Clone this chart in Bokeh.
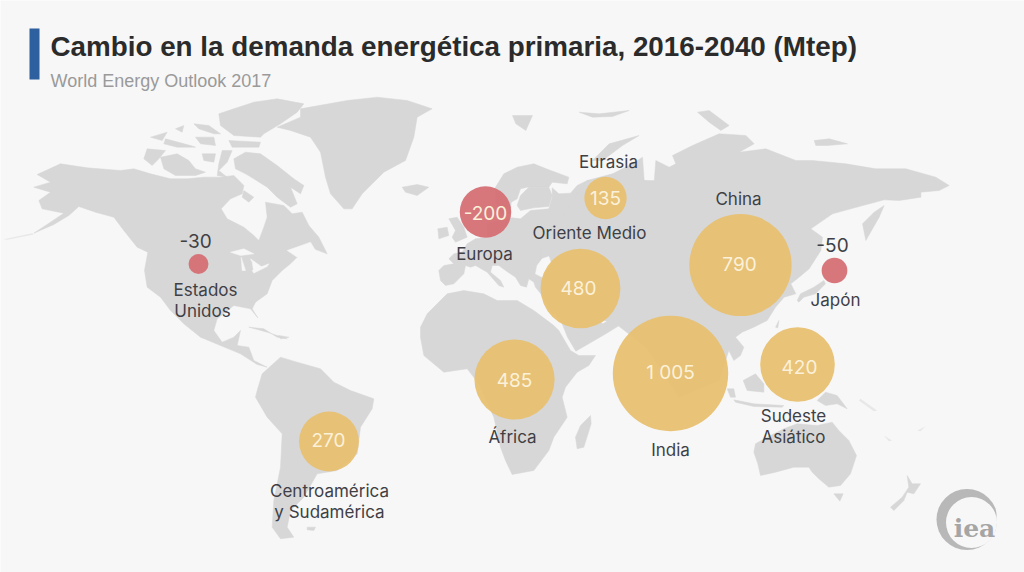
from math import sqrt
from bokeh.plotting import figure
from bokeh.models import Range1d
from bokeh.core.properties import value
from bokeh.embed import file_html
from bokeh.resources import INLINE

# ---- data -------------------------------------------------------------
regions = ["Estados Unidos", "Europa", "Eurasia", "Oriente Medio", "China",
           "Japón", "África", "India", "Sudeste Asiático", "Centroamérica y Sudamérica"]
demand_change = [-30, -200, 135, 480, 790, -50, 485, 1005, 420, 270]
demand_labels = ["-30", "-200", "135", "480", "790", "-50", "485", "1 005", "420", "270"]
map_lon = [198, 485, 605, 580, 740, 834, 514, 670, 797, 328.5]
map_lat = [263.5, 211.5, 197.5, 288, 264.5, 270, 379, 373, 364, 441]
value_lon = [195, 485, 605, 578, 739, 832, 514, 670, 799, 328]
value_lat = [240, 212, 197, 287, 263, 244, 379, 372, 366, 439]
name_text = ["Estados", "Unidos", "Europa", "Eurasia", "Oriente Medio", "China", "Japón",
             "África", "India", "Sudeste", "Asiático", "Centroamérica", "y Sudamérica"]
name_lon = [205, 202, 484, 608, 589, 738, 835, 512, 670, 793, 793, 329, 329]
name_lat = [289, 310, 253, 161, 232, 198, 299, 436, 449, 415, 436, 490, 511]
title = "Cambio en la demanda energética primaria, 2016-2040 (Mtep)"
subtitle = "World Energy Outlook 2017"

# map outlines: each list holds (x, y) traced on a 3x grid with an origin
Z1, Z2, Z3, Z4, Z6, Z7, Z8 = (0, 80), (512, 80), (200, 300), (700, 340), (420, 130), (700, 270), (120, 90)
north_america = [(110,282),(180,250),(260,262),(360,270),(400,265),(450,280),(510,295),(560,295),(610,290),(660,290),(700,285),(730,315),(725,340),(690,355),(662,385),(680,415),(730,440),(760,465),(775,480),(790,440),(800,410),(795,365),(850,375),(875,400),(905,395),(925,435),(955,470),(980,520),(940,505),(895,525),(870,550),(845,570),(815,600),(800,640),(765,665),(755,685),(772,712),(750,685),(700,675),(650,715),(640,750),(665,785),(700,770),(720,750),(710,795),(745,800),(760,840),(800,860),(770,852),(720,820),(660,795),(600,770),(550,730),(510,690),(480,650),(440,620),(432,570),(442,515),(410,500),(370,450),(340,410),(285,395),(235,378),(205,405),(160,432),(100,458),(150,425),(190,398),(125,385),(115,360),(150,335),(100,320),(150,305)]
greenland = [(830,140),(900,110),(900,85),(1040,60),(1130,50),(1220,60),(1295,85),(1250,110),(1240,170),(1215,240),(1150,275),(1085,340),(1055,385),(1030,385),(990,340),(975,290),(960,215),(930,170),(870,150)]
iceland = [(1205,320),(1250,312),(1285,320),(1250,345),(1215,335)]
cuba = [(745,740),(790,745),(830,770),(860,775),(800,755)]
arctic_islands = [
    [(340,205),(375,185),(420,190),(470,225),(520,265),(550,285),(540,310),(510,290),(530,340),(510,350),(470,320),(440,290),(400,265),(375,250),(345,235)],
    [(120,200),(170,190),(205,210),(225,235),(255,245),(225,255),(165,255),(130,235)],
    [(70,205),(80,175),(135,180),(115,205),(95,225)],
    [(245,190),(285,190),(280,215),(250,210)],
    [(305,180),(335,180),(320,215),(295,240),(320,260),(290,255),(295,220)],
    [(325,150),(420,155),(415,170),(335,170)],
    [(135,145),(210,165),(225,170),(170,170),(130,160)],
    [(225,140),(280,140),(285,165),(240,160)],
    [(295,70),(340,55),(400,35),(470,25),(550,40),(530,65),(480,100),(430,130),(420,140),(340,135),(300,105)],
    [(220,100),(265,105),(300,130),(280,130),(235,115)],
    [(90,140),(140,125),(125,150)],
    [(165,115),(190,105),(185,125)],
    [(370,300),(400,320),(385,335),(365,320)],
]
great_lakes = [
    [(690,515),(730,505),(760,520),(720,525)],
    [(722,530),(735,570),(725,570)],
    [(750,535),(785,560),(760,575),(755,545)],
    [(755,570),(805,550),(800,558),(760,578)],
    [(860,510),(930,485),(945,510),(890,530)],
]
europe = [(395,172),(415,190),(450,188),(470,165),(500,150),(720,150),(720,540),(400,540),(365,495),(345,470),(340,455),(325,445),(318,470),(300,465),(285,440),(255,420),(235,405),(215,405),(210,425),(240,450),(250,470),(235,465),(200,425),(165,405),(150,410),(135,405),(130,430),(100,460),(75,465),(60,450),(55,420),(70,405),(100,400),(85,385),(100,370),(125,365),(140,340),(165,325),(200,320),(200,280),(240,270),(275,262),(300,265),(330,240),(385,235),(395,200)]
scandinavia = [(225,170),(250,130),(290,110),(340,100),(385,118),(445,140),(440,160),(395,155),(385,170),(320,170),(300,175),(290,205),(272,215),(270,250),(240,250),(225,210)]
finland = [(325,170),(385,170),(395,195),(385,228),(340,232),(300,240),(290,225),(300,195)]
britain = [(85,265),(110,260),(130,290),(140,320),(105,335),(95,320),(105,300)]
ireland = [(52,295),(80,290),(85,315),(55,325)]
black_sea = [(365,385),(385,378),(392,400),(375,420),(365,440),(345,430),(350,405)]
asia = [(224,300),(300,280),(360,250),(390,230),(395,300),(425,305),(430,240),(470,260),(490,250),(480,225),(540,195),(620,160),(700,165),(725,190),(680,215),(760,205),(850,240),(900,240),(1000,250),(1090,265),(1180,265),(1270,290),(1310,315),(1280,330),(1225,335),(1225,350),(1160,360),(1115,358),(1040,378),(960,400),(895,445),(930,470),(925,510),(890,565),(860,590),(835,610),(850,640),(815,650),(789,680),(764,720),(724,740),(689,755),(669,770),(694,800),(684,825),(664,840),(649,810),(620,900),(500,950),(400,800),(310,730),(200,700),(120,700),(85,640),(85,500)]
sakhalin = [(1050,430),(1085,395),(1115,375),(1100,410),(1060,480)]
arabia = [(120,690),(149,730),(165,770),(190,812),(280,760),(320,735),(300,715),(270,730),(240,700),(180,660)]
svalbard = [(0,105),(60,105),(40,150),(10,130)]
franz_josef = [(200,95),(260,100),(350,90),(300,108),(240,110)]
novaya_zemlya = [(240,240),(290,190),(380,165),(330,195),(270,240)]
new_siberia = [(555,95),(590,90),(650,135),(625,150),(590,125)]
wrangel = [(905,180),(950,175),(1005,190),(945,195),(910,195)]
africa = [(660,80),(680,40),(710,10),(740,-20),(790,-30),(850,-20),(890,0),(950,0),(1000,30),(1060,75),(1075,90),(1110,150),(1135,165),(1185,165),(1165,195),(1130,215),(1095,260),(1085,290),(1100,350),(1060,410),(1045,450),(1000,510),(935,522),(915,480),(900,440),(880,350),(835,250),(800,205),(730,215),(670,165),(660,110)]
madagascar = [(1170,345),(1172,370),(1150,440),(1130,445),(1125,410),(1140,375)]
south_america = [(170,270),(185,220),(240,170),(290,185),(360,205),(400,245),(450,270),(520,295),(515,325),(480,380),(470,460),(410,510),(350,520),(310,590),(270,630),(260,680),(280,710),(240,715),(215,680),(220,600),(240,500),(245,400),(200,350),(165,290)]
falklands = [(320,680),(345,680),(340,690),(320,688)]
hispaniola = [(235,105),(265,110),(240,115)]
australia = [(165,310),(200,290),(250,265),(290,250),(350,255),(395,245),(415,270),(445,300),(468,345),(450,400),(420,435),(385,440),(355,415),(335,395),(325,380),(280,380),(225,395),(180,405),(172,370),(160,335)]
tasmania = [(400,460),(428,460),(418,482)]
new_zealand = [(620,405),(635,430),(660,430),(640,460),(620,455),(610,480),(580,510),(570,500),(605,470),(625,440)]
new_guinea = [(350,180),(375,155),(410,165),(440,205),(410,190),(375,195)]
borneo = [(128,120),(165,100),(190,130),(190,155),(140,150)]
sumatra = [(80,145),(100,145),(105,170),(90,170)]
java = [(100,178),(160,190),(250,195),(245,200),(160,198),(105,185)]
taiwan = [(225,170),(235,150),(232,172)]
japan = [(290,90),(300,70),(340,50),(370,30),(375,40),(345,70),(310,80),(295,95)]
pacific_isles = [[(480,175),(530,210),(520,212),(475,180)], [(550,285),(575,300),(565,302)], [(650,270),(675,258),(660,272)]]
aleutians = [(10,476),(95,458),(100,462),(20,478)]

land = [(Z1, north_america), (Z1, greenland), (Z1, iceland), (Z1, cuba)]
land += [(Z8, s) for s in arctic_islands]
land += [(Z6, europe), (Z6, scandinavia), (Z6, finland), (Z6, britain), (Z6, ireland)]
land += [(Z2, s) for s in (asia, sakhalin, arabia, svalbard, franz_josef, novaya_zemlya, new_siberia, wrangel)]
land += [(Z3, s) for s in (africa, madagascar, south_america, falklands, hispaniola)]
land += [(Z4, s) for s in (australia, tasmania, new_zealand, new_guinea, borneo, sumatra, java)]
land += [(Z7, s) for s in (taiwan, japan)]
water = [(Z1, s) for s in great_lakes] + [(Z6, black_sea)]
faint = [(Z4, s) for s in pacific_isles] + [(Z1, aleutians)]

def unpack(shapes):
    xs = [[o[0] + x / 3 for x, y in s] for o, s in shapes]
    ys = [[o[1] + y / 3 for x, y in s] for o, s in shapes]
    return xs, ys

BG = "#f7f7f7"
p = figure(width=1024, height=572, x_range=Range1d(0, 1024), y_range=Range1d(572, 0),
           output_backend="svg", toolbar_location=None, min_border=0,
           background_fill_color=BG, border_fill_color=BG, outline_line_color=None)
p.axis.visible = False
p.grid.visible = False

xs, ys = unpack(land)
p.patches(xs, ys, fill_color="#d7d7d7", line_color="#d7d7d7", line_width=0.5)
xs, ys = unpack(water)
p.patches(xs, ys, fill_color=BG, line_color=BG, line_width=0.5)
xs, ys = unpack(faint)
p.patches(xs, ys, fill_color="#e8e8e8", line_color=None)

# bubbles: area follows the magnitude of the change
radius = [1.82 * sqrt(abs(v)) for v in demand_change]
colors = ["#d56f74" if v < 0 else "#e8c070" for v in demand_change]
p.circle(map_lon, map_lat, radius=radius, fill_color=colors, fill_alpha=0.95, line_color=None)

# value labels: white inside the bubble, dark beside the small ones
val_colors = ["#3f3f46" if i in (0, 5) else "#fbf1da" for i in range(len(demand_labels))]
p.text(value_lon, value_lat, text=demand_labels, text_color=val_colors, text_align="center",
       text_baseline="middle", text_font=value("Inter"), text_font_size="19px")
p.text(name_lon, name_lat, text=name_text, text_color="#3f3f46", text_align="center",
       text_baseline="middle", text_font=value("Inter"), text_font_size="17px")

# header
p.quad(left=[29], right=[39], top=[28], bottom=[79], fill_color="#2e5f9e", line_color=None)
p.text([50], [46], text=[title], text_color="#2b2b2b", text_font=value("Liberation Sans"),
       text_font_style="bold", text_font_size="27.8px", text_baseline="middle")
p.text([50], [80], text=[subtitle], text_color="#9a9a9a", text_font=value("Liberation Sans"),
       text_font_size="18px", text_baseline="middle")

# logo
p.circle([966.5], [519], radius=[30.5], fill_color="#b8b8b8", line_color=None)
p.circle([971], [522], radius=[25.5], fill_color=BG, line_color=None)
p.quad(left=[996], right=[1005], top=[480], bottom=[555], fill_color=BG, line_color=None)
p.text([974], [528], text=["iea"], text_color="#a5a5a5", text_align="center", text_baseline="middle",
       text_font=value("DejaVu Serif"), text_font_style="bold", text_font_size="25px")

open("out.html", "w").write(file_html(p, INLINE))
